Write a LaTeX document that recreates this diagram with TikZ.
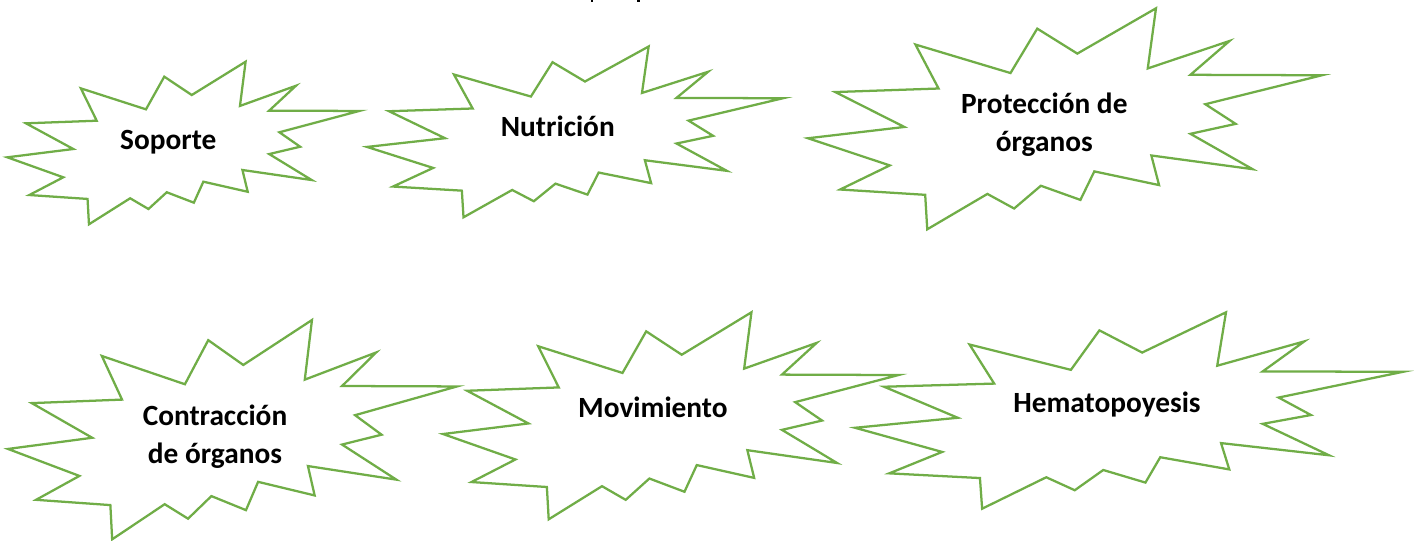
\documentclass[tikz,border=0pt]{standalone}
\usepackage{fontspec}
\setmainfont{Carlito}
\definecolor{burstgreen}{HTML}{70AD47}
\tikzset{
  burstline/.style={draw=burstgreen, line width=1.7pt, line join=miter, fill=white},
  label/.style={font=\bfseries\fontsize{22}{28.7}\selectfont, align=center, anchor=base, inner sep=0pt}
}
% #1 x0, #2 y0, #3 width, #4 height (pixels, y downwards)
\newcommand{\burstshape}[4]{%
  \draw[burstline, shift={(#1,#2)}, xscale=#3, yscale=#4]
    (0.677,0) -- (0.661,0.272) -- (0.820,0.148) -- (0.744,0.301) -- (1.000,0.303)
    -- (0.773,0.434) -- (0.832,0.523) -- (0.744,0.568) -- (0.865,0.728) -- (0.668,0.666)
    -- (0.683,0.800) -- (0.557,0.738) -- (0.530,0.867) -- (0.453,0.803) -- (0.401,0.906)
    -- (0.349,0.840) -- (0.232,1.000) -- (0.228,0.844) -- (0.0625,0.820) -- (0.159,0.711)
    -- (0.000,0.588) -- (0.1875,0.537) -- (0.053,0.379) -- (0.254,0.363) -- (0.209,0.164)
    -- (0.394,0.293) -- (0.446,0.092) -- (0.524,0.205) -- cycle;}
\begin{document}
\begin{tikzpicture}[x=0.75pt, y=-0.75pt]
\useasboundingbox (0,0) rectangle (1416,541);
% cut-off fragments at the top edge
\fill (590.5,0) rectangle (593,2.5);
\fill (637,0) rectangle (639.5,2.5);
% bursts
\burstshape{7.3}{61.7}{352}{162.6}
\burstshape{367}{46.5}{416}{170.8}
\burstshape{808}{8.3}{514}{221}
\burstshape{8}{320}{449}{219.3}
\burstshape{443}{312.3}{455.6}{207}
\burstshape{855}{312.3}{548}{196.4}
% labels (anchor base = baseline of the last line)
\node[label] (soporte) at (168.3,149.5) {Soporte};
\node[label] (nutricion) at (557.8,136.7) {Nutrición};
\node[label] (proteccion) at (1044.3,151.7) {Protección de\\órganos};
\node[label] (contraccion) at (215,463.3) {Contracción\\de órganos};
\node[label] (movimiento) at (652.9,417.3) {Movimiento};
\node[label] (hematopoyesis) at (1107,412.7) {Hematopoyesis};
\end{tikzpicture}
\end{document}
